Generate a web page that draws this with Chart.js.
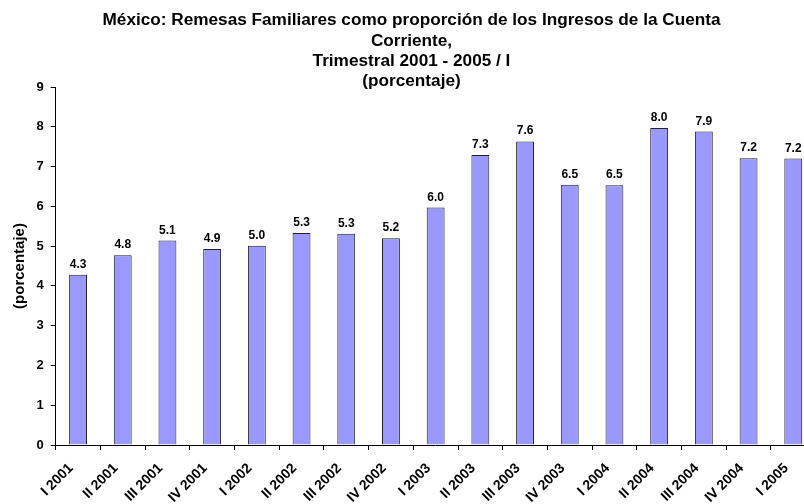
<!DOCTYPE html>
<html>
<head>
<meta charset="utf-8">
<script src="https://cdn.jsdelivr.net/npm/chart.js@4/dist/chart.umd.min.js"></script>
<style>
html,body{margin:0;padding:0;background:#fff;overflow:hidden;}
#wrap{width:820px;height:504px;position:relative;}
</style>
</head>
<body>
<div id="wrap"><canvas id="c" width="820" height="504"></canvas></div>
<script>
const categories = ["I 2001","II 2001","III 2001","IV 2001","I 2002","II 2002","III 2002","IV 2002","I 2003","II 2003","III 2003","IV 2003","I 2004","II 2004","III 2004","IV 2004","I 2005"];
const remesas = [4.28, 4.77, 5.14, 4.93, 5.01, 5.33, 5.31, 5.20, 5.97, 7.29, 7.63, 6.54, 6.53, 7.97, 7.88, 7.21, 7.20];
const titleLines = ["México: Remesas Familiares como proporción de los Ingresos de la Cuenta","Corriente,","Trimestral 2001 - 2005 / I","(porcentaje)"];
const yAxisTitle = "(porcentaje)";
const yMin = 0, yMax = 9, yStep = 1;

const FONT = "'Liberation Sans', Arial, sans-serif";

const titlePlugin = {
  id: 'manualTitle',
  afterDraw(chart) {
    const ctx = chart.ctx;
    ctx.save();
    ctx.font = "bold 17.2px " + FONT;
    ctx.fillStyle = "#000";
    ctx.textAlign = "center";
    ctx.textBaseline = "middle";
    const ys = [20, 41, 61.5, 81.5];
    titleLines.forEach((t, i) => ctx.fillText(t, 411.5, ys[i]));
    ctx.restore();
  }
};

const valueLabels = {
  id: 'valueLabels',
  afterDatasetsDraw(chart) {
    const ctx = chart.ctx;
    const meta = chart.getDatasetMeta(0);
    ctx.save();
    ctx.font = "bold 12px " + FONT;
    ctx.fillStyle = "#000";
    ctx.textAlign = "center";
    ctx.textBaseline = "alphabetic";
    meta.data.forEach((bar, i) => {
      ctx.fillText(remesas[i].toFixed(1), bar.x, bar.y - 7);
    });
    ctx.restore();
  }
};

new Chart(document.getElementById('c'), {
  type: 'bar',
  data: {
    labels: categories,
    datasets: [{
      data: remesas,
      backgroundColor: '#9999FF',
      borderColor: '#222',
      borderWidth: 1,
      barPercentage: 0.4,
      categoryPercentage: 1.0
    }]
  },
  options: {
    responsive: false,
    animation: false,
    devicePixelRatio: 1,
    layout: { padding: { top: 87, right: 4.4, bottom: 0, left: 0 } },
    plugins: { legend: { display: false }, tooltip: { enabled: false }, title: { display: false } },
    scales: {
      x: {
        afterFit(s) { s.height = 59; },
        grid: { display: true, drawOnChartArea: false, drawTicks: true, tickLength: 5, color: '#000', offset: true },
        border: { display: true, color: '#000', width: 1 },
        ticks: { color: '#000', font: { family: FONT, size: 14, weight: 'bold' }, minRotation: 45, maxRotation: 45, autoSkip: false, padding: 10, labelOffset: -7 }
      },
      y: {
        min: yMin, max: yMax,
        afterFit(s) { s.width = 55.7; },
        grid: { display: true, drawOnChartArea: false, drawTicks: true, tickLength: 5, color: '#000' },
        border: { display: true, color: '#000', width: 1 },
        ticks: { stepSize: yStep, color: '#000', font: { family: FONT, size: 13, weight: 'bold' }, padding: 7 },
        title: { display: true, text: yAxisTitle, color: '#000', font: { family: FONT, size: 15, weight: 'bold' }, padding: { top: 11, bottom: 0 } }
      }
    }
  },
  plugins: [titlePlugin, valueLabels]
});
</script>
</body>
</html>
